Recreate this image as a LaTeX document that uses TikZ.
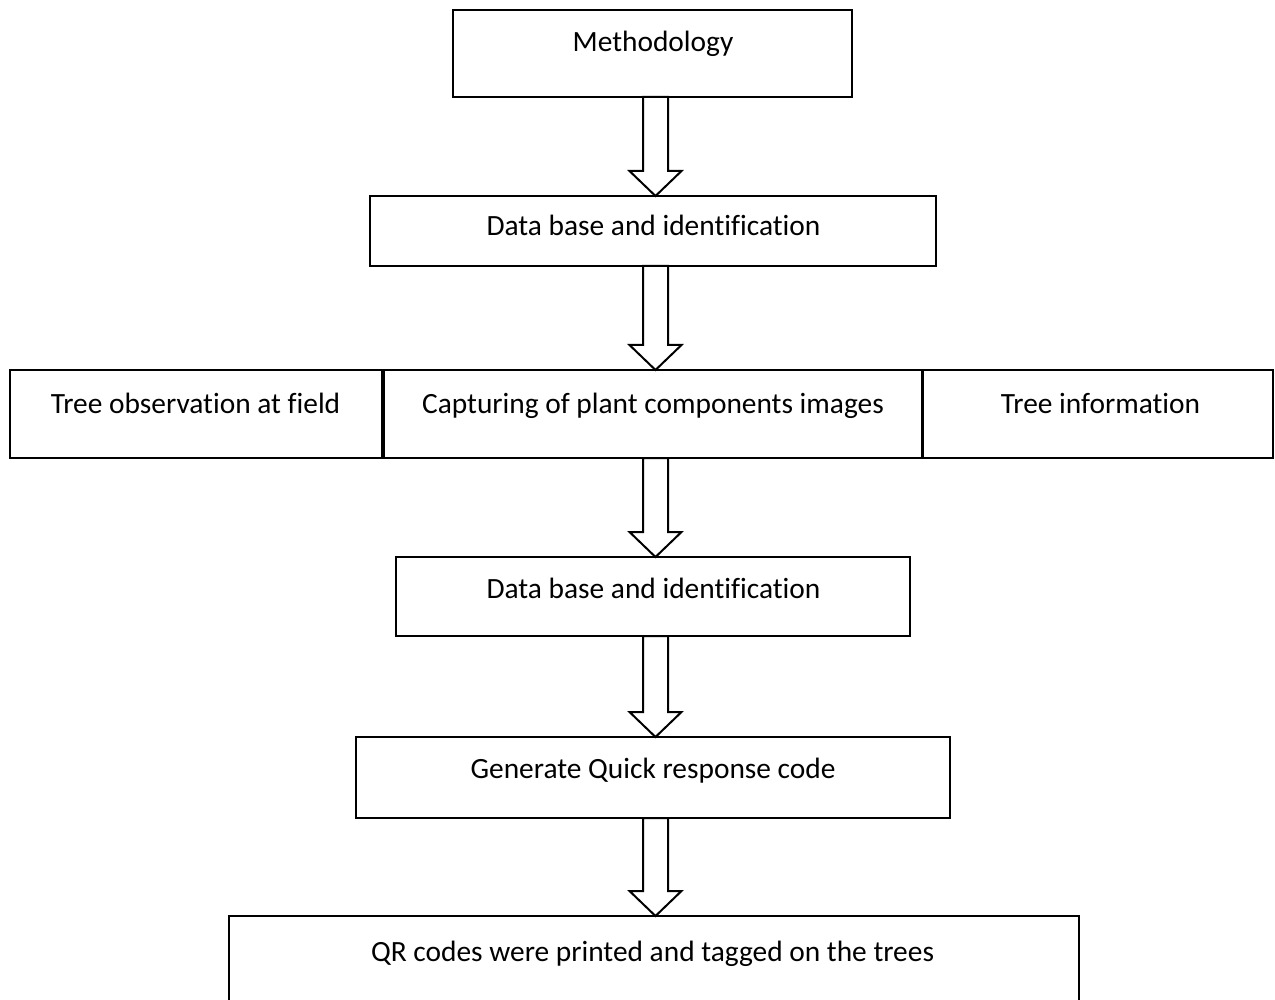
\documentclass[tikz,border=0pt]{standalone}
\usepackage{fontspec}
\setmainfont[Ligatures={NoCommon}]{Carlito}
\usetikzlibrary{calc}
\newcommand{\blockarr}[2]{%
  \path[arr] ($(#1.south -| ax)+(-12.5,0)$) -- ($(#2.north -| ax)+(-12.5,-25)$)
    -- ($(#2.north -| ax)+(-26,-25)$) -- (#2.north -| ax)
    -- ($(#2.north -| ax)+(26,-25)$) -- ($(#2.north -| ax)+(12.5,-25)$)
    -- ($(#1.south -| ax)+(12.5,0)$) -- cycle;}
\begin{document}
\begin{tikzpicture}[x=0.5pt,y=-0.5pt,
  box/.style={draw, line width=1pt, rectangle, inner sep=0pt, outer sep=0pt},
  lbl/.style={font=\fontsize{14.7}{17}\selectfont, inner sep=0pt, anchor=base},
  arr/.style={draw, line width=1pt, fill=white, line join=miter}]
\clip (0,0) rectangle (1275,1000);
\fill[white] (0,0) rectangle (1275,1000);
\coordinate (ax) at (655.5,0);
% boxes
\node[box, minimum width=199.5pt, minimum height=43.5pt] (m) at (652.5,53.5) {};
\node[box, minimum width=283pt, minimum height=35pt] (b2) at (653,231) {};
\node[box, minimum width=186pt, minimum height=44pt] (rl) at (196,414) {};
\node[box, minimum width=269pt, minimum height=44pt] (rm) at (653,414) {};
\node[box, minimum width=175pt, minimum height=44pt] (rr) at (1098,414) {};
\node[box, minimum width=257pt, minimum height=39.5pt] (b4) at (653,596.5) {};
\node[box, minimum width=297pt, minimum height=40.5pt] (b5) at (653,777.5) {};
\node[box, minimum width=425pt, minimum height=47pt] (b6) at (654,963) {};
% labels
\node[lbl] (tm) at (653,52) {Methodology};
\node[lbl] (t2) at (653.5,236) {Data base and identification};
\node[lbl] (tl) at (195.5,414) {Tree observation at field};
\node[lbl] (tc) at (653,414) {Capturing of plant components images};
\node[lbl] (tr) at (1100.5,414) {Tree information};
\node[lbl] (t4) at (653.5,598) {Data base and identification};
\node[lbl] (t5) at (653,778) {Generate Quick response code};
\node[lbl] (t6) at (652.5,961) {QR codes were printed and tagged on the trees};
% arrows
\blockarr{m}{b2}
\blockarr{b2}{rm}
\blockarr{rm}{b4}
\blockarr{b4}{b5}
\blockarr{b5}{b6}
\end{tikzpicture}
\end{document}
